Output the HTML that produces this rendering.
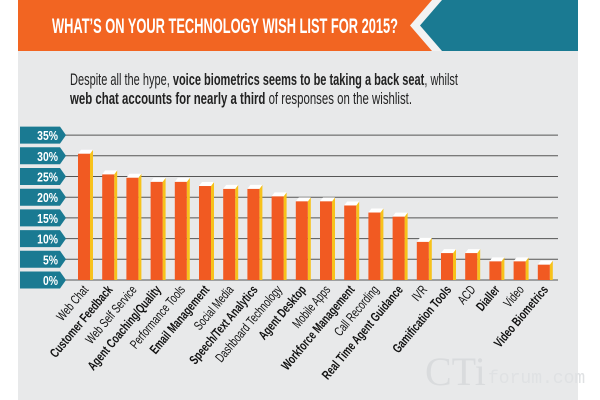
<!DOCTYPE html>
<html><head><meta charset="utf-8"><style>
body{margin:0;width:600px;height:400px;background:#fff;overflow:hidden;font-family:"Liberation Sans",sans-serif}
</style></head><body>
<svg width="600" height="400" xmlns="http://www.w3.org/2000/svg" style="position:absolute;left:0;top:0" font-family="Liberation Sans,sans-serif">
<rect x="18" y="0" width="560" height="400" fill="#e8e9ea"/>
<rect x="18" y="0" width="560" height="51" fill="#f26522"/>
<polygon points="440,0 578,0 578,51 440,51 418,25.5" fill="#1a7a92"/>
<polygon points="432,0 442,0 420,25.5 442,51 432,51 410,25.5" fill="#f2f2f2"/>
<text x="52" y="33" fill="#fff" font-size="21" font-weight="bold" textLength="346" lengthAdjust="spacingAndGlyphs">WHAT’S ON YOUR TECHNOLOGY WISH LIST FOR 2015?</text>
<text x="70" y="85" fill="#222" font-size="16.5" textLength="388" lengthAdjust="spacingAndGlyphs">Despite all the hype, <tspan font-weight="bold">voice biometrics seems to be taking a back seat</tspan>, whilst</text>
<text x="70" y="104" fill="#222" font-size="16.5" textLength="342" lengthAdjust="spacingAndGlyphs"><tspan font-weight="bold">web chat accounts for nearly a third</tspan> of responses on the wishlist.</text>
<g id="axis" font-size="13" font-weight="bold" fill="#fff" text-anchor="end"></g>
<g id="bars"></g>
<g id="labels" font-size="13" fill="#111"></g>
<text x="425" y="385" font-size="40" fill="#d9dbdd" font-family="Liberation Serif,serif">CTi</text>
<text x="488" y="383" font-size="18" fill="#dfe1e3" font-family="Liberation Mono,monospace">forum.com</text>
</svg>
<script>
var ns="http://www.w3.org/2000/svg";
function el(p,t,a,txt){var e=document.createElementNS(ns,t);for(var k in a)e.setAttribute(k,a[k]);if(txt)e.textContent=txt;document.getElementById(p).appendChild(e);return e;}
function Y(v){return 280-v*4.14;}
for(var i=0;i<=7;i++){var y=Y(i*5);
 el("axis","line",{x1:64,y1:y,x2:558,y2:y,stroke:"#555","stroke-width":1});
 el("axis","polygon",{points:"20,"+(y-8.5)+" 60,"+(y-8.5)+" 66,"+y+" 60,"+(y+8.5)+" 20,"+(y+8.5),fill:"#1a7a92"});
 el("axis","text",{x:0,y:0,transform:"translate(58 "+(y+5)+") scale(0.8 1)"},(i*5)+"%");
}
var d=[["Web Chat",30.5,0],["Customer Feedback",25.5,1],["Web Self Service",24.7,0],["Agent Coaching/Quality",23.7,1],["Performance Tools",23.7,0],["Email Management",22.7,1],["Social Media",22,0],["Speech/Text Analytics",22,1],["Dashboard Technology",20.2,0],["Agent Desktop",19,1],["Mobile Apps",19,0],["Workforce Management",18,1],["Call Recording",16.3,0],["Real Time Agent Guidance",15.3,1],["IVR",9.2,0],["Gamification Tools",6.5,1],["ACD",6.5,0],["Dialler",4.5,1],["Video",4.5,0],["Video Biometrics",3.7,1]];
d.forEach(function(r,i){var x=78+i*24.2,t=Y(r[1]);
 el("bars","polygon",{points:(x+12)+","+t+" "+(x+15)+","+(t-4)+" "+(x+15)+",280 "+(x+12)+",280",fill:"#f7c21b"});
 el("bars","polygon",{points:x+","+t+" "+(x+3)+","+(t-4)+" "+(x+15)+","+(t-4)+" "+(x+12)+","+t,fill:"#fff"});
 el("bars","rect",{x:x,y:t,width:12,height:280-t,fill:"#f15a22"});
 var cx=x+11,cy=290;
 el("labels","text",{x:0,y:0,"text-anchor":"end","font-weight":r[2]?"bold":"normal",transform:"translate("+cx+" "+cy+") rotate(-50) scale(0.72 1)"},r[0]);
});
</script>
</body></html>
